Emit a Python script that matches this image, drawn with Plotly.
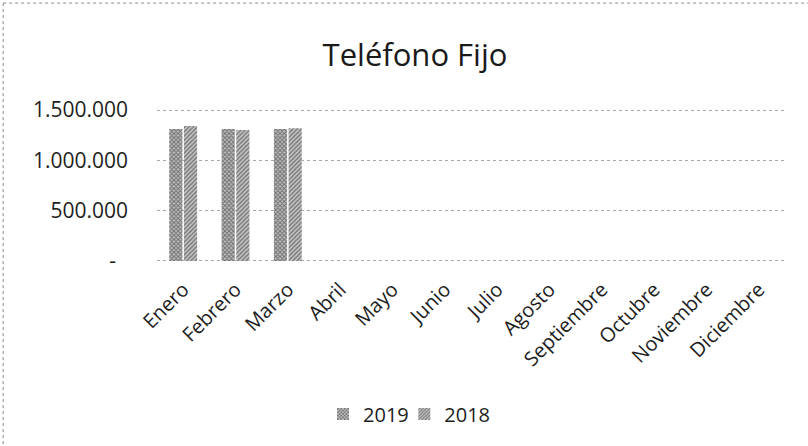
import plotly.graph_objects as go

months = ["Enero", "Febrero", "Marzo", "Abril", "Mayo", "Junio", "Julio",
          "Agosto", "Septiembre", "Octubre", "Noviembre", "Diciembre"]
vals_2019 = [1312000, 1312000, 1312000, None, None, None, None, None, None, None, None, None]
vals_2018 = [1342000, 1302000, 1319000, None, None, None, None, None, None, None, None, None]
y_tickvals = [0, 500000, 1000000, 1500000]
y_ticktext = ["-\u2007", "500.000", "1.000.000", "1.500.000"]

FONT = "Open Sans"

fig = go.Figure()
fig.add_trace(go.Bar(
    name="2019", x=months, y=vals_2019, legend="legend",
    marker=dict(color="#a8a8a8", line=dict(width=0),
                pattern=dict(shape="x", fgcolor="#1e1e1e", bgcolor="#bcbcbc",
                             size=3, solidity=0.5)),
))
fig.add_trace(go.Bar(
    name="2018", x=months, y=vals_2018, legend="legend2",
    marker=dict(color="#a8a8a8", line=dict(width=0),
                pattern=dict(shape="/", fgcolor="#2a2a2a", bgcolor="#c8c8c8",
                             size=3, solidity=0.5)),
))

legend_style = dict(orientation="h", yanchor="middle", y=-0.974, xanchor="left",
                    font=dict(family=FONT, size=20, color="#1e1e1e"),
                    itemwidth=30, bgcolor="rgba(0,0,0,0)")

fig.update_layout(
    width=808, height=446,
    margin=dict(l=157, r=23, t=108, b=183, autoexpand=False),
    paper_bgcolor="white", plot_bgcolor="white",
    font=dict(family=FONT, color="#1e1e1e", size=20),
    title=dict(text="Teléfono Fijo", x=0.5136, xanchor="center",
               y=0.877, yanchor="middle",
               font=dict(family=FONT, size=31, color="#1a1a1a")),
    barmode="group", bargap=0.44, bargroupgap=0.1,
    showlegend=True,
    legend=dict(x=0.2644, **legend_style),
    legend2=dict(x=0.3938, **legend_style),
    xaxis=dict(tickangle=-45, showgrid=False, showline=False, ticks="",
               automargin=False, ticklabelstandoff=10,
               tickfont=dict(family=FONT, size=20, color="#1e1e1e")),
    yaxis=dict(range=[-20000, 1520000], tickvals=y_tickvals, ticktext=y_ticktext,
               showgrid=True, gridcolor="#a8a8a8", griddash="dot", gridwidth=1,
               zeroline=False, showline=False, ticks="", automargin=False,
               ticklabelstandoff=28,
               tickfont=dict(family=FONT, size=21, color="#1e1e1e")),
    shapes=[
        dict(type="line", xref="paper", yref="paper", x0=-0.245, x1=1.04,
             y0=1.677, y1=1.677, line=dict(color="#8a8a8a", width=1, dash="dot")),
        dict(type="line", xref="paper", yref="paper", x0=-0.245, x1=-0.245,
             y0=1.677, y1=-1.2, line=dict(color="#8a8a8a", width=1, dash="dot")),
    ],
)

fig.write_html("out.html", config={"displayModeBar": False},
               post_script="document.body.style.margin='0';")
